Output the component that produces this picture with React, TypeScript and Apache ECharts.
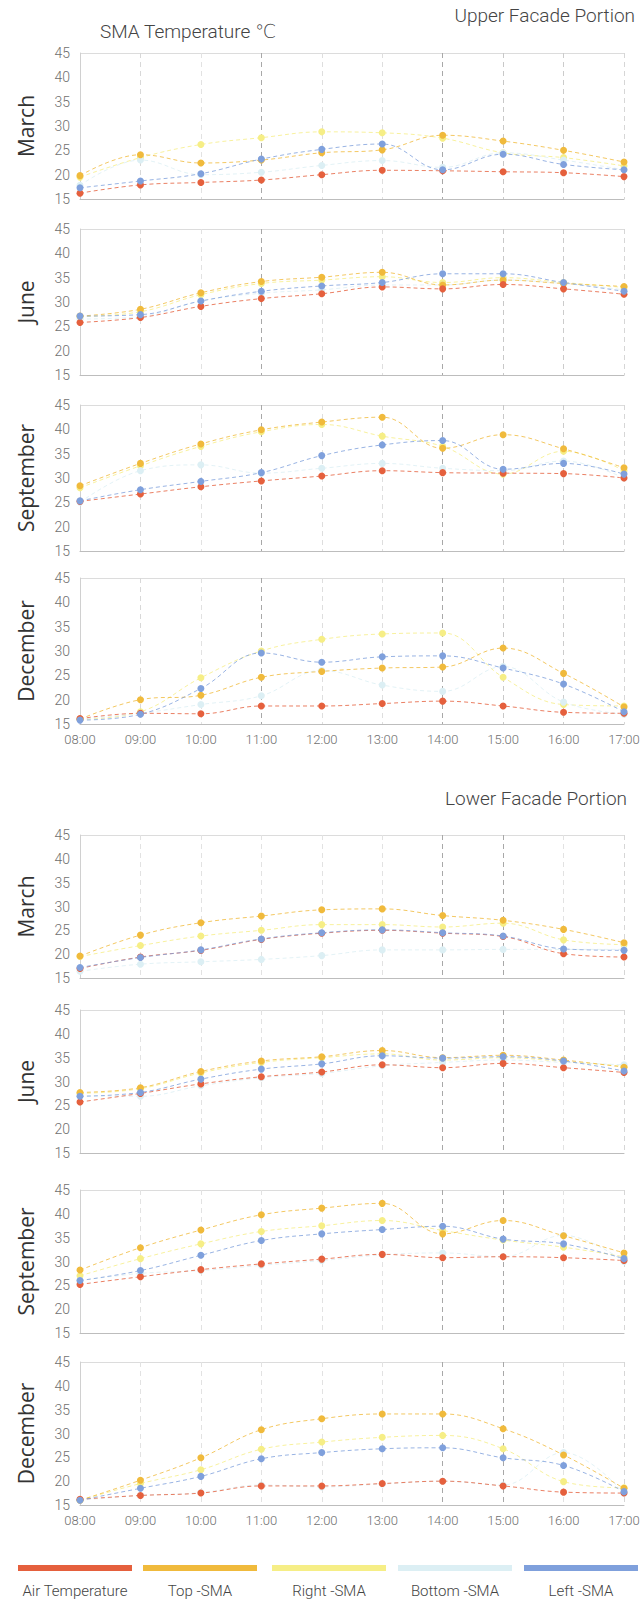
import React, { useEffect, useRef } from "react";
import * as echarts from "echarts";

const hours = ["08:00", "09:00", "10:00", "11:00", "12:00", "13:00", "14:00", "15:00", "16:00", "17:00"];
const seriesNames = ["Air Temperature", "Top -SMA", "Right -SMA", "Bottom -SMA", "Left -SMA"];
const seriesColors = ["#E5603D", "#F0BA3C", "#F6EE86", "#DCEFF4", "#7FA0DC"];
const months = ["March", "June", "September", "December"];
const yMin = 15;
const yMax = 45;
const yStep = 5;

// order of each panel: Air, Top, Right, Bottom, Left
const upperMarch = [
  [16.2, 17.9, 18.4, 18.9, 20.0, 20.9, 20.8, 20.6, 20.4, 19.6],
  [19.8, 24.1, 22.4, 23.0, 24.5, 25.1, 28.1, 26.9, 25.0, 22.6],
  [19.5, 23.5, 26.2, 27.6, 28.8, 28.6, 27.5, 24.5, 23.5, 21.8],
  [17.8, 23.0, 20.0, 20.5, 21.9, 22.9, 21.5, 24.5, 23.0, 21.0],
  [17.3, 18.7, 20.2, 23.2, 25.2, 26.3, 21.0, 24.2, 22.1, 21.0],
];
const upperJune = [
  [25.8, 26.8, 29.1, 30.7, 31.7, 33.1, 32.7, 33.6, 32.7, 31.6],
  [27.1, 28.5, 31.9, 34.2, 35.1, 36.1, 33.5, 34.5, 33.8, 33.2],
  [27.0, 28.0, 31.5, 33.8, 34.5, 35.2, 34.0, 35.0, 34.0, 33.0],
  [26.5, 27.0, 30.2, 31.8, 32.5, 33.5, 33.5, 34.5, 33.8, 32.5],
  [27.1, 27.4, 30.2, 32.2, 33.3, 34.0, 35.8, 35.8, 34.0, 32.2],
];
const upperSeptember = [
  [25.2, 26.7, 28.2, 29.4, 30.4, 31.5, 31.1, 31.0, 30.9, 30.0],
  [28.4, 33.0, 37.0, 39.9, 41.5, 42.5, 36.1, 38.9, 36.0, 32.1],
  [28.0, 32.5, 36.5, 39.5, 41.0, 38.6, 36.5, 30.8, 35.5, 31.5],
  [25.0, 31.5, 32.7, 31.0, 32.0, 33.0, 32.0, 31.5, 33.5, 30.0],
  [25.3, 27.6, 29.3, 31.1, 34.6, 36.8, 37.7, 31.8, 33.0, 30.8],
];
const upperDecember = [
  [16.1, 17.2, 17.1, 18.7, 18.7, 19.2, 19.7, 18.7, 17.4, 17.2],
  [16.0, 20.0, 20.9, 24.6, 25.8, 26.5, 26.7, 30.6, 25.4, 18.5],
  [16.0, 17.5, 24.5, 30.0, 32.4, 33.5, 33.7, 24.6, 19.0, 18.7],
  [16.0, 17.2, 19.0, 20.8, 26.0, 23.0, 21.7, 26.8, 19.5, 17.0],
  [15.8, 17.0, 22.3, 29.6, 27.7, 28.8, 29.0, 26.5, 23.2, 17.5],
];
const lowerMarch = [
  [17.0, 19.4, 20.8, 23.1, 24.4, 25.0, 24.4, 23.7, 20.1, 19.4],
  [19.6, 24.0, 26.6, 28.0, 29.3, 29.5, 28.1, 27.1, 25.2, 22.4],
  [19.5, 21.8, 23.8, 25.0, 26.2, 26.2, 25.7, 26.5, 23.0, 22.0],
  [16.4, 17.9, 18.4, 18.9, 19.7, 20.9, 20.9, 21.0, 21.0, 21.0],
  [17.2, 19.3, 20.9, 23.2, 24.5, 25.1, 24.5, 23.8, 21.1, 20.8],
];
const lowerJune = [
  [25.7, 27.5, 29.5, 31.0, 32.0, 33.5, 32.9, 33.8, 32.9, 31.9],
  [27.7, 28.7, 32.1, 34.3, 35.2, 36.5, 35.0, 35.5, 34.5, 33.0],
  [27.5, 28.5, 31.8, 34.0, 35.0, 35.8, 34.5, 35.0, 34.2, 33.2],
  [27.0, 26.9, 29.1, 30.8, 31.7, 33.3, 34.0, 34.5, 34.0, 33.5],
  [26.9, 27.7, 30.5, 32.6, 33.7, 35.4, 34.9, 35.2, 34.3, 32.2],
];
const lowerSeptember = [
  [25.2, 26.8, 28.3, 29.5, 30.5, 31.5, 30.8, 31.0, 30.8, 30.2],
  [28.2, 32.9, 36.6, 39.8, 41.2, 42.2, 35.8, 38.6, 35.4, 31.8],
  [27.0, 30.6, 33.7, 36.3, 37.5, 38.6, 36.5, 34.5, 33.0, 31.0],
  [26.0, 27.5, 28.1, 29.2, 30.2, 31.4, 31.8, 31.0, 35.5, 30.0],
  [26.0, 28.1, 31.3, 34.4, 35.8, 36.7, 37.4, 34.7, 33.7, 30.6],
];
const lowerDecember = [
  [16.2, 17.0, 17.5, 19.0, 19.0, 19.5, 20.0, 19.0, 17.7, 17.5],
  [16.0, 20.2, 24.9, 30.8, 33.1, 34.1, 34.1, 31.0, 25.5, 18.5],
  [16.0, 19.5, 22.4, 26.7, 28.2, 29.2, 29.6, 26.8, 19.9, 18.6],
  [16.0, 17.0, 17.6, 19.2, 18.8, 19.4, 20.0, 19.2, 26.0, 17.5],
  [16.0, 18.5, 21.0, 24.7, 26.0, 26.8, 27.0, 24.9, 23.3, 17.8],
];

const upperPanels = [upperMarch, upperJune, upperSeptember, upperDecember];
const lowerPanels = [lowerMarch, lowerJune, lowerSeptember, lowerDecember];

const FONT = "Roboto, 'DejaVu Sans', sans-serif";
const gridTops = [53, 229, 405, 578, 835, 1010, 1190, 1362];
const gridHeights = [146, 146, 146, 146, 143, 143, 143, 143];
const upperSplit = ["#cfcfcf", "#d8d8d8", "#e2e2e2", "#a8a8a8", "#dedede", "#dedede", "#a8a8a8", "#c8c8c8", "#cccccc", "#d6d6d6"];
const lowerSplit = ["#cfcfcf", "#e2e2e2", "#e2e2e2", "#e2e2e2", "#e2e2e2", "#e2e2e2", "#a8a8a8", "#a8a8a8", "#e2e2e2", "#d6d6d6"];
const drawOrder = [2, 3, 1, 0, 4];

export default function App() {
  const ref = useRef<HTMLDivElement>(null);
  useEffect(() => {
    document.body.style.margin = "0";
    if (!ref.current) return;
    const chart = echarts.init(ref.current, undefined, { renderer: "svg" });
    const panels = [...upperPanels, ...lowerPanels];
    const grid: any[] = [];
    const xAxis: any[] = [];
    const yAxis: any[] = [];
    const series: any[] = [];
    panels.forEach((panel, i) => {
      const upper = i < 4;
      const showX = i === 3 || i === 7;
      grid.push({ left: 80, right: 19, top: gridTops[i], height: gridHeights[i] });
      xAxis.push({
        type: "category",
        gridIndex: i,
        data: hours,
        boundaryGap: false,
        axisLine: { show: true, lineStyle: { color: "#bdbdbd", width: 1 } },
        axisTick: { show: false },
        axisLabel: { show: showX, color: "#6f6f6f", fontSize: 13, fontWeight: 300, fontFamily: FONT, margin: 9 },
        splitLine: { show: true, lineStyle: { color: upper ? upperSplit : lowerSplit, type: [5, 4], width: 1 } },
      });
      yAxis.push({
        type: "value",
        gridIndex: i,
        min: yMin,
        max: yMax,
        interval: yStep,
        name: months[i % 4],
        nameLocation: "middle",
        nameRotate: 90,
        nameGap: 44,
        nameTextStyle: { fontSize: 21, color: "#333", fontFamily: "'Open Sans', 'Noto Sans', sans-serif" },
        axisLine: { show: true, lineStyle: { color: "#d0d0d0" } },
        axisTick: { show: false },
        axisLabel: { color: "#6f6f6f", fontSize: 14, fontWeight: 300, fontFamily: FONT, margin: 10 },
        splitLine: {
          show: true,
          lineStyle: { color: ["rgba(0,0,0,0)", "rgba(0,0,0,0)", "rgba(0,0,0,0)", "rgba(0,0,0,0)", "rgba(0,0,0,0)", "rgba(0,0,0,0)", "#dcdcdc"] },
        },
      });
      drawOrder.forEach((k) => {
        series.push({
          type: "line",
          name: seriesNames[k],
          xAxisIndex: i,
          yAxisIndex: i,
          data: panel[k],
          smooth: 0.4,
          symbol: "circle",
          symbolSize: 7,
          itemStyle: { color: seriesColors[k] },
          lineStyle: { color: seriesColors[k], width: 1, type: [4, 3], opacity: 0.8 },
        });
      });
    });

    const legendX = [18, 143, 272, 398, 524];
    const legendW = 114;
    const graphic: any[] = [
      { type: "text", left: 100, top: 22, style: { text: "SMA Temperature ℃", font: `300 19px ${FONT}`, fill: "#444" } },
      { type: "text", right: 8, top: 6, style: { text: "Upper Facade Portion", font: `300 19px ${FONT}`, fill: "#444" } },
      { type: "text", right: 16, top: 789, style: { text: "Lower Facade Portion", font: `300 19px ${FONT}`, fill: "#444" } },
    ];
    seriesNames.forEach((n, k) => {
      graphic.push({ type: "rect", shape: { x: legendX[k], y: 1565, width: legendW, height: 6 }, style: { fill: seriesColors[k] } });
      graphic.push({
        type: "text",
        x: legendX[k] + legendW / 2,
        y: 1591,
        style: { text: n, font: `300 15px ${FONT}`, fill: "#444", textAlign: "center", textVerticalAlign: "middle" },
      });
    });

    chart.setOption({
      animation: false,
      backgroundColor: "#fff",
      grid,
      xAxis,
      yAxis,
      series,
      graphic,
    });
    return () => chart.dispose();
  }, []);
  return <div ref={ref} style={{ width: 643, height: 1607 }} />;
}
